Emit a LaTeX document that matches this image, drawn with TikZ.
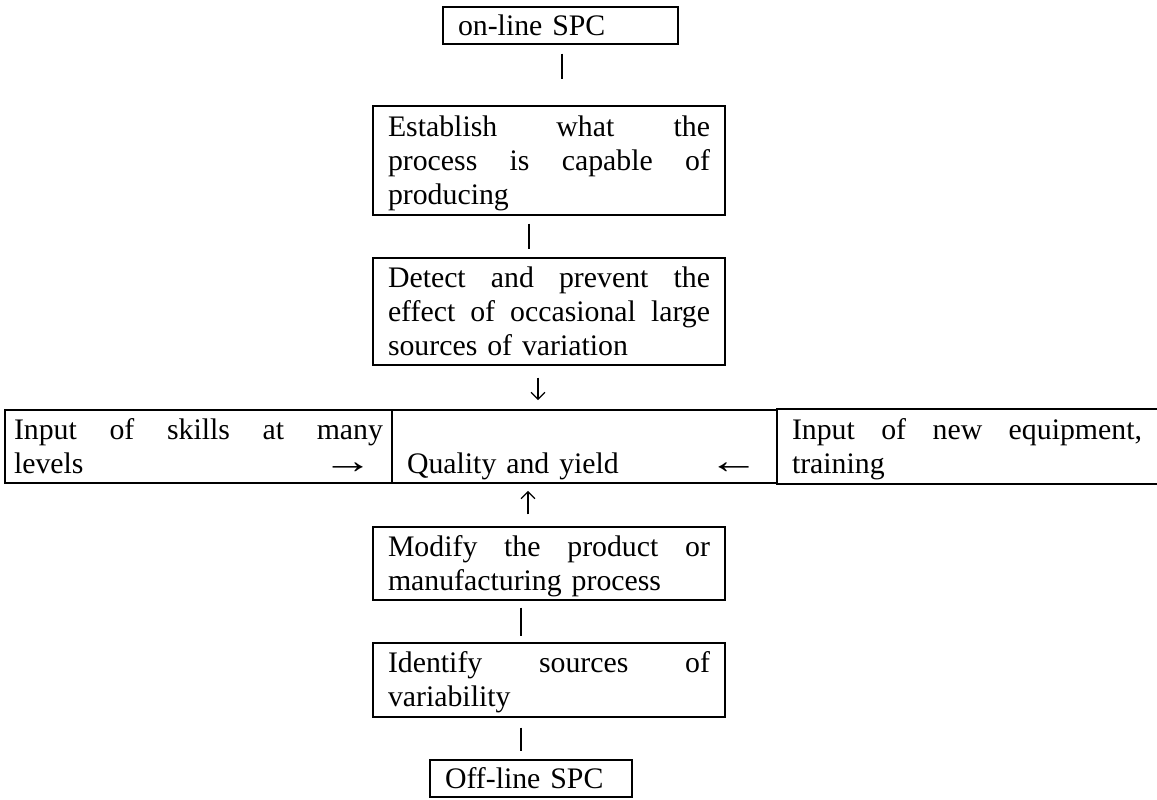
\documentclass[tikz,border=0pt]{standalone}
\usepackage{fontspec}
\usepackage{graphicx}
\setmainfont{Liberation Serif}
\usetikzlibrary{arrows.meta}
\newcommand\ms{\rule[-3.6pt]{0pt}{17pt}}
\newcommand\bigarrow[1]{\scalebox{1.7}[1.25]{#1}}
\begin{document}
\begin{tikzpicture}[x=0.5pt,y=-0.5pt,
  box/.style={draw, line width=0.6pt, align=left, inner xsep=7.5pt, inner ysep=0pt,
    font=\fontsize{14.9}{17}\selectfont},
  cell/.style={box, line width=0.8pt, minimum height=36.5pt},
  conn/.style={line width=0.65pt},
  arr/.style={line width=0.65pt, -{Straight Barb[length=3.5pt,width=7pt]}},
  tline/.style={line width=0.8pt}]
\useasboundingbox (0,0) rectangle (1157,799);

% boxes
\node[box, text width=102.5pt, minimum height=18.5pt] (online) at (560.5,25.5) {\ms on-line SPC};
\node[box, text width=161pt, minimum height=54.5pt] (establish) at (549,160.5)
  {\ms Establish\hfill what\hfill the\\ process\hfill is\hfill capable\hfill of\\ producing\ms};
\node[box, text width=161pt, minimum height=53.5pt] (detect) at (549,311.5)
  {\ms Detect\hfill and\hfill prevent\hfill the\\ effect\hfill of\hfill occasional\hfill large\\ sources of variation\ms};

% table row
\node[cell, inner xsep=4.5pt, text width=184.5pt] (left) at (198.5,446.5)
  {\ms Input\hfill of\hfill skills\hfill at\hfill many\\ levels\hfill \bigarrow{→}\hspace*{5pt}\ms};
\node[cell, text width=177.5pt] (mid) at (584.5,446.5)
  {\ms\\ Quality and yield\hfill \bigarrow{←}\hspace*{1.5pt}\ms};
\node[cell, draw=none, text width=175pt] (right) at (967,446.5)
  {\ms Input\hfill of\hfill new\hfill equipment,\\ training\ms};
\draw[tline] (right.north west) -- (right.north east);
\draw[tline] (right.south west) -- (right.south east);

\node[box, text width=161pt, minimum height=36.5pt] (modify) at (549,563.5)
  {\ms Modify\hfill the\hfill product\hfill or\\ manufacturing process\ms};
\node[box, text width=161pt, minimum height=37pt] (identify) at (549,680)
  {\ms Identify\hfill sources\hfill of\\ variability\ms};
\node[box, text width=86pt, minimum height=18.5pt] (offline) at (531,778.5) {\ms Off-line SPC};

% connector positions
\coordinate (x1) at (562,0);
\coordinate (x2) at (529,0);
\coordinate (x3) at (538,0);
\coordinate (x4) at (528,0);
\coordinate (x5) at (521,0);

\draw[conn, shorten <=4.5pt, shorten >=13pt] (online.south -| x1) -- (establish.north -| x1);
\draw[conn, shorten <=4pt, shorten >=4pt] (establish.south -| x2) -- (detect.north -| x2);
\draw[arr, shorten <=6pt, shorten >=4.5pt] (detect.south -| x3) -- (mid.north -| x3);
\draw[arr, shorten <=6pt, shorten >=3.5pt] (modify.north -| x4) -- (mid.south -| x4);
\draw[conn, shorten <=3.5pt, shorten >=3pt] (modify.south -| x5) -- (identify.north -| x5);
\draw[conn, shorten <=5pt, shorten >=4pt] (identify.south -| x5) -- (offline.north -| x5);
\end{tikzpicture}
\end{document}
